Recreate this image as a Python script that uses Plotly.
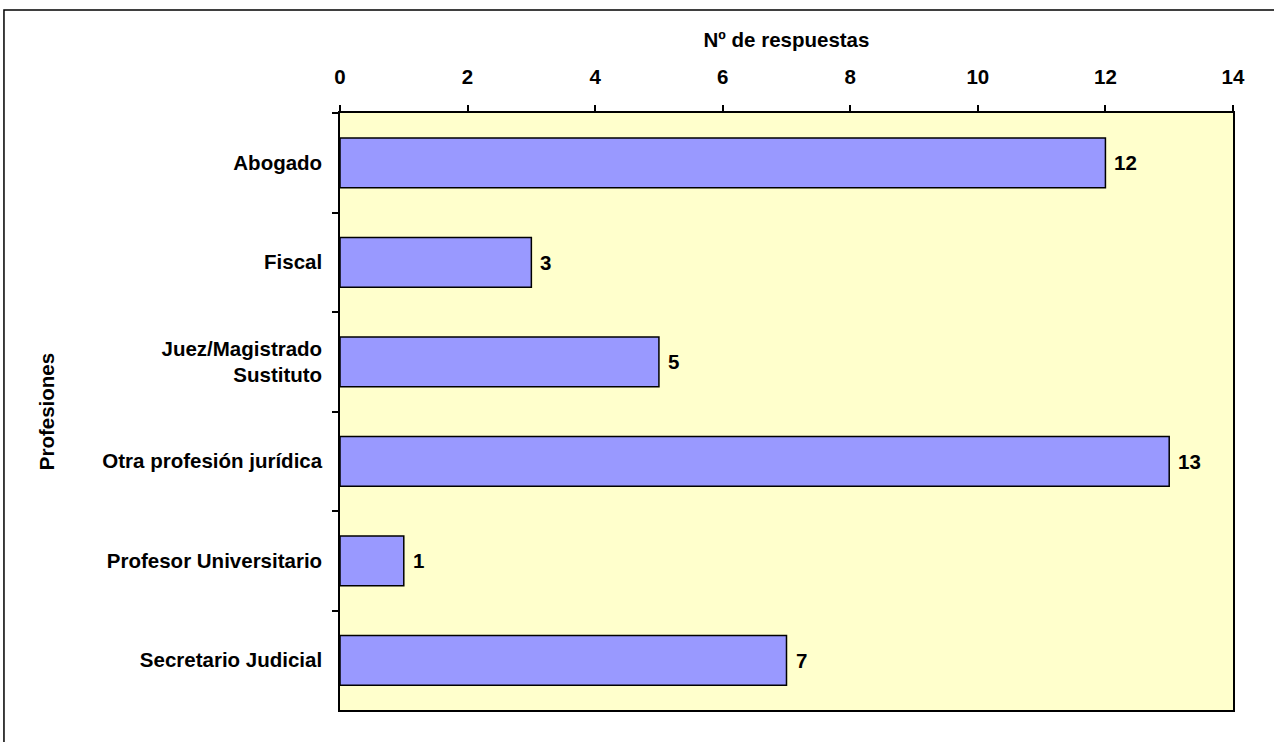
import plotly.graph_objects as go

categories = ["Abogado", "Fiscal", "Juez/Magistrado<br>Sustituto",
              "Otra profesión jurídica", "Profesor Universitario", "Secretario Judicial"]
values = [12, 3, 5, 13, 1, 7]
x_ticks = [0, 2, 4, 6, 8, 10, 12, 14]

FONT = "Liberation Sans, Arial, sans-serif"
FS = 20.5
bold = dict(family=FONT, size=FS, color="black", weight="bold")

fig = go.Figure()
fig.add_trace(go.Bar(
    y=categories, x=values, orientation="h", width=0.5,
    marker=dict(color="#9999FF", line=dict(color="black", width=1.5)),
    hoverinfo="x+y",
))

# data labels to the right of each bar
for c, v in zip(categories, values):
    fig.add_annotation(x=v, y=c, xref="x", yref="y", text=str(v),
                       showarrow=False, xanchor="left", yanchor="middle",
                       xshift=7, font=bold)

fig.update_layout(
    width=1274, height=742,
    margin=dict(l=340, r=41, t=113, b=32),
    paper_bgcolor="white", plot_bgcolor="#FFFFCC",
    showlegend=False,
    font=dict(family=FONT, size=FS, color="black"),
    xaxis=dict(
        side="top", range=[0, 14], tickvals=x_ticks, ticks="outside", ticklen=6,
        tickwidth=1.5, tickcolor="black", showgrid=False, zeroline=False,
        showline=True, linecolor="black", linewidth=1.5, mirror=True,
        tickfont=bold, ticklabelstandoff=13,
        title=dict(text="Nº de respuestas", standoff=12, font=bold),
    ),
    yaxis=dict(
        autorange="reversed", ticks="outside", tickson="boundaries", ticklen=6,
        tickwidth=1.5, tickcolor="black", showgrid=False,
        showline=True, linecolor="black", linewidth=1.5, mirror=True,
        tickfont=bold, ticklabelstandoff=12,
        title=dict(text="Profesiones", standoff=42, font=bold),
    ),
)

# outer chart border (left and top visible)
fig.add_shape(type="rect", xref="paper", yref="paper",
              x0=-0.3763, x1=1.08, y0=-0.08, y1=1.1725,
              line=dict(color="black", width=1.5), layer="below")

fig.write_html("out.html", config={"displayModeBar": False},
               post_script="document.body.style.margin='0';document.body.style.padding='0';")
